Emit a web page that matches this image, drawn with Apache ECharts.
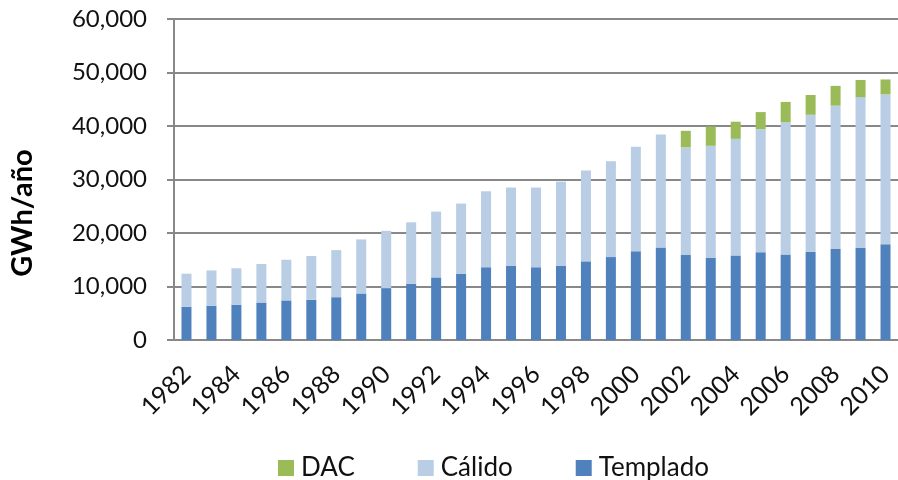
<!DOCTYPE html>
<html>
<head>
<meta charset="utf-8">
<title>GWh/año</title>
<script src="https://cdn.jsdelivr.net/npm/echarts@6/dist/echarts.min.js"></script>
<style>
  html, body { margin: 0; padding: 0; background: #fff; }
  #chart { width: 898px; height: 480px; }
</style>
</head>
<body>
<div id="chart"></div>
<script>
// datos (GWh/año)
const years = ['1982', '1983', '1984', '1985', '1986', '1987', '1988', '1989', '1990', '1991',
  '1992', '1993', '1994', '1995', '1996', '1997', '1998', '1999', '2000', '2001',
  '2002', '2003', '2004', '2005', '2006', '2007', '2008', '2009', '2010'];
const templado = [6200, 6400, 6600, 7000, 7400, 7500, 8000, 8700, 9700, 10500,
  11700, 12400, 13600, 13900, 13600, 13900, 14700, 15500, 16600, 17300,
  15900, 15400, 15800, 16400, 16000, 16500, 17000, 17200, 17900];
const calido = [6200, 6600, 6800, 7200, 7600, 8200, 8800, 10100, 10700, 11500,
  12300, 13100, 14200, 14600, 14900, 15700, 17000, 17900, 19500, 21100,
  20100, 20900, 21800, 23000, 24700, 25600, 26800, 28200, 28000];
const dac = [0, 0, 0, 0, 0, 0, 0, 0, 0, 0,
  0, 0, 0, 0, 0, 0, 0, 0, 0, 0,
  3100, 3600, 3200, 3200, 3800, 3700, 3700, 3200, 2800];
const yTicks = [0, 10000, 20000, 30000, 40000, 50000, 60000];

const chart = echarts.init(document.getElementById('chart'));
const font = 'Lato, "Open Sans", sans-serif';
const option = {
  animation: false,
  textStyle: { fontFamily: font },
  grid: { left: 174, right: 0, top: 19, bottom: 140 },
  graphic: [{
    type: 'text',
    x: 23,
    y: 213,
    rotation: Math.PI / 2,
    style: {
      text: 'GWh/año',
      font: 'bold 29px ' + font,
      fill: '#000',
      align: 'center',
      verticalAlign: 'middle'
    }
  }],
  legend: {
    left: 273,
    top: 450,
    itemWidth: 16,
    itemHeight: 16,
    itemGap: 63,
    icon: 'rect',
    data: ['DAC', 'Cálido', 'Templado'],
    textStyle: { fontSize: 26, color: '#111', fontFamily: font, padding: [0, 0, 0, 2] }
  },
  xAxis: {
    type: 'category',
    data: years,
    axisLine: { lineStyle: { color: '#888', width: 2 } },
    axisTick: { alignWithLabel: false, interval: 0, length: 7, lineStyle: { color: '#888', width: 2 } },
    axisLabel: { interval: 1, rotate: 45, margin: 30, fontSize: 25, color: '#111', fontFamily: font }
  },
  yAxis: {
    type: 'value',
    min: yTicks[0],
    max: yTicks[yTicks.length - 1],
    interval: 10000,
    axisLine: { show: true, lineStyle: { color: '#888', width: 2 } },
    axisTick: { show: true, length: 7, lineStyle: { color: '#888', width: 2 } },
    splitLine: { lineStyle: { color: '#888', width: 2 } },
    axisLabel: {
      margin: 27,
      fontSize: 24,
      color: '#111',
      fontFamily: font,
      formatter: v => v.toLocaleString('en-US')
    }
  },
  series: [
    { name: 'Templado', type: 'bar', stack: 'total', barWidth: 10, data: templado,
      itemStyle: { color: '#4F81BD' } },
    { name: 'Cálido', type: 'bar', stack: 'total', barWidth: 10, data: calido,
      itemStyle: { color: '#B9CDE5' } },
    { name: 'DAC', type: 'bar', stack: 'total', barWidth: 10, data: dac,
      itemStyle: { color: '#9BBB59' } }
  ]
};
chart.setOption(option);
</script>
</body>
</html>
